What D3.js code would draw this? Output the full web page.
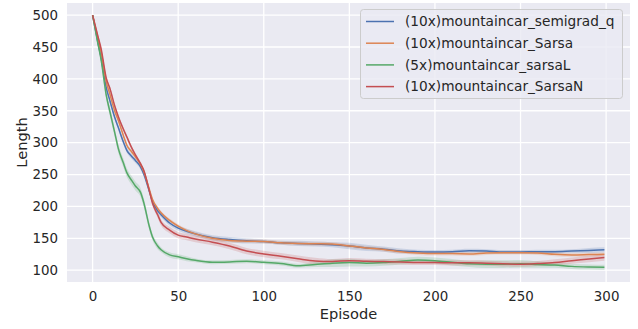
<!DOCTYPE html>
<html>
<head>
<meta charset="utf-8">
<script src="https://cdn.jsdelivr.net/npm/d3@7"></script>
<style>
  body { margin: 0; background: #fff; }
  svg { display: block; font-family: "DejaVu Sans", sans-serif; }
</style>
</head>
<body>
<svg id="chart" width="638" height="329"></svg>
<script>
const episodes = [0, 3, 5, 8, 10, 13, 15, 18, 20, 23, 25, 28, 30, 33, 35, 38, 40, 45, 50, 55, 60,
  70, 80, 90, 100, 110, 120, 130, 140, 150, 160, 170, 180, 190, 200, 210, 220, 230, 240, 250,
  260, 270, 280, 290, 299];

const semigradQ = [500, 459, 433, 386, 367, 339, 324, 301, 288, 278, 272, 262, 250, 225, 208, 193, 187, 174, 166, 161, 157,
  151, 148, 146, 145, 143, 142, 141, 140, 138, 135, 133, 130, 129, 128.5, 129, 130.5, 130, 128.5, 128.5,
  129, 129, 130, 131, 132];
const sarsa = [500, 465, 441, 395, 377, 349, 335, 311, 296, 285, 278, 266, 254, 228, 211, 197, 190, 178, 169, 162, 157,
  150, 146.5, 145.5, 145, 143, 142, 141.5, 141, 138, 135, 132.5, 129, 127, 126, 126, 125.5, 127, 127.5, 127.5,
  127, 125, 124, 124.5, 125];
const sarsaL = [500, 457, 430, 374, 350, 315, 291, 268, 253, 240, 232, 222, 205, 170, 152, 138, 132, 124, 121, 118, 115.5,
  112.5, 113, 114, 112.5, 110.5, 107, 109, 111, 112, 111, 112, 114, 116, 115, 112.5, 110, 109.5, 109.5, 110,
  109, 108, 106, 105, 104.5];
const sarsaN = [500, 468, 447, 401, 386, 357, 341, 321, 309, 291, 281, 267, 256, 226, 205, 187, 175, 163, 155, 152, 149,
  144, 138, 130, 125.5, 122, 118, 114.5, 113.5, 115, 114, 113.5, 113, 112, 112, 111.5, 111.5, 111, 110, 109.5,
  110.5, 112, 115, 117.5, 120];

// half width of the shaded band
const semigradQCi = [0, 4, 4, 4, 4, 4, 4, 4, 4, 4, 4, 4, 4, 4, 4, 4, 4, 4, 4, 4, 4,
  4, 4, 4, 3, 3, 4, 4, 4, 5, 5, 4, 4, 3, 3, 3, 3, 3, 3, 3, 3, 3, 3, 4, 4];
const sarsaCi = [0, 3, 3, 3, 3, 3, 3, 3, 3, 3, 3, 3, 3, 3, 3, 3, 3, 3, 3, 3, 3,
  3, 3, 3, 3, 3, 3, 3, 3, 3, 3, 3, 3, 3, 3, 3, 3, 3, 3, 3, 3, 3, 3, 3, 3];
const sarsaLCi = [0, 6, 7, 7, 7, 7, 7, 7, 7, 7, 7, 7, 7, 6, 5, 5, 4, 4, 4, 4, 3,
  3, 3, 3, 3, 3, 3, 4, 6, 6, 5, 5, 5, 5, 5, 5, 5, 6, 6, 6, 5, 4, 4, 4, 4];
const sarsaNCi = [0, 3, 3, 3, 3, 3, 3, 3, 3, 3, 3, 3, 3, 4, 4, 5, 5, 5, 5, 5, 5,
  5, 5, 5, 5, 5, 5, 5, 4, 4, 4, 4, 4, 4, 4, 4, 4, 4, 4, 4, 4, 5, 5, 5, 5];

const seriesNames = ['(10x)mountaincar_semigrad_q', '(10x)mountaincar_Sarsa', '(5x)mountaincar_sarsaL', '(10x)mountaincar_SarsaN'];
const seriesColors = ['#4c72b0', '#dd8452', '#55a868', '#c44e52'];
const xTicks = [0, 50, 100, 150, 200, 250, 300];
const yTicks = [100, 150, 200, 250, 300, 350, 400, 450, 500];

const allSeries = [
  { name: seriesNames[0], color: seriesColors[0], values: semigradQ, ci: semigradQCi },
  { name: seriesNames[1], color: seriesColors[1], values: sarsa, ci: sarsaCi },
  { name: seriesNames[2], color: seriesColors[2], values: sarsaL, ci: sarsaLCi },
  { name: seriesNames[3], color: seriesColors[3], values: sarsaN, ci: sarsaNCi }
];

const svg = d3.select('#chart');
const plotLeft = 67, plotRight = 630, plotTop = 3, plotBottom = 282;

const x = d3.scaleLinear().domain([-14.95, 313.95]).range([plotLeft, plotRight]);
const y = d3.scaleLinear().domain([81.5, 519]).range([plotBottom, plotTop]);

svg.append('rect')
  .attr('x', plotLeft).attr('y', plotTop)
  .attr('width', plotRight - plotLeft).attr('height', plotBottom - plotTop)
  .attr('fill', '#eaeaf2');

// grid
svg.append('g').selectAll('line')
  .data(xTicks)
  .enter().append('line')
  .attr('x1', (d) => x(d)).attr('x2', (d) => x(d))
  .attr('y1', plotTop).attr('y2', plotBottom)
  .style('stroke', '#fff').style('stroke-width', 1.3);
svg.append('g').selectAll('line')
  .data(yTicks)
  .enter().append('line')
  .attr('x1', plotLeft).attr('x2', plotRight)
  .attr('y1', (d) => y(d)).attr('y2', (d) => y(d))
  .style('stroke', '#fff').style('stroke-width', 1.3);

// axes, text only (seaborn darkgrid has no spines)
const xAxis = svg.append('g')
  .attr('transform', `translate(0,${plotBottom})`)
  .call(d3.axisBottom(x).tickValues(xTicks).tickSize(0).tickPadding(9));
const yAxis = svg.append('g')
  .attr('transform', `translate(${plotLeft},0)`)
  .call(d3.axisLeft(y).tickValues(yTicks).tickSize(0).tickPadding(9));
[xAxis, yAxis].forEach((a) => {
  a.select('.domain').remove();
  a.selectAll('text')
    .style('font-family', '"DejaVu Sans", sans-serif')
    .style('font-size', '13.4px')
    .style('fill', '#262626');
});

svg.append('text')
  .attr('x', (plotLeft + plotRight) / 2).attr('y', 319)
  .attr('text-anchor', 'middle')
  .style('font-size', '14.6px').style('fill', '#262626')
  .text('Episode');
svg.append('text')
  .attr('transform', `translate(27,${(plotTop + plotBottom) / 2}) rotate(-90)`)
  .attr('text-anchor', 'middle')
  .style('font-size', '14.6px').style('fill', '#262626')
  .text('Length');

// bands and lines
const area = d3.area()
  .x((d, i) => x(episodes[i]))
  .y0((d) => y(d.v - d.c))
  .y1((d) => y(d.v + d.c))
  .curve(d3.curveMonotoneX);
const line = d3.line()
  .x((d, i) => x(episodes[i]))
  .y((d) => y(d))
  .curve(d3.curveMonotoneX);

const plot = svg.append('g');
allSeries.forEach((s) => {
  plot.append('path')
    .datum(s.values.map((v, i) => ({ v: v, c: s.ci[i] })))
    .attr('d', area)
    .style('fill', s.color)
    .style('fill-opacity', 0.2)
    .style('stroke', 'none');
});
allSeries.forEach((s) => {
  plot.append('path')
    .datum(s.values)
    .attr('d', line)
    .style('fill', 'none')
    .style('stroke', s.color)
    .style('stroke-width', 1.5);
});

// legend
const legend = svg.append('g');
legend.append('rect')
  .attr('x', 360.5).attr('y', 9.5)
  .attr('width', 262).attr('height', 89)
  .attr('rx', 3)
  .style('fill', '#eaeaf2').style('fill-opacity', 0.8)
  .style('stroke', '#cccccc').style('stroke-width', 1);
const rows = legend.selectAll('g.row')
  .data(allSeries)
  .enter().append('g')
  .attr('class', 'row')
  .attr('transform', (d, i) => `translate(0,${21.5 + i * 21.7})`);
rows.append('line')
  .attr('x1', 366).attr('x2', 394)
  .style('stroke', (d) => d.color)
  .style('stroke-width', 1.5);
rows.append('text')
  .attr('x', 405).attr('dy', '0.35em')
  .style('font-size', '13.7px').style('fill', '#262626')
  .text((d) => d.name);
</script>
</body>
</html>
